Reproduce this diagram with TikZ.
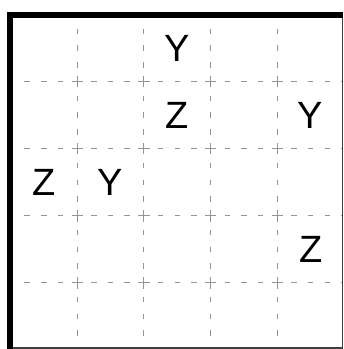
\documentclass[tikz,border=0pt]{standalone}
\usepackage{fontspec}
\setmainfont{Liberation Sans}
\begin{document}
\begin{tikzpicture}[x=1pt,y=-1pt,
  hline/.style={draw=black!42, line width=0.9pt, dash pattern=on 5.5pt off 11.175pt, dash phase=2.75pt},
  vline/.style={draw=black!42, line width=0.9pt, dash pattern=on 5.5pt off 11.275pt, dash phase=2.75pt},
  crossmark/.style={draw=black!42, line width=0.9pt},
  thinframe/.style={draw=black!75, line width=1.3pt},
  thickframe/.style={draw=black, line width=6pt, line join=miter},
  letter/.style={font=\fontsize{38}{38}\selectfont, text=black, inner sep=0pt}]
\useasboundingbox (0,0) rectangle (344,349);
% dashed grid lines
\foreach \yy in {81.6,148.7,215.8,282.9}
  \draw[hline] (10.5,\yy) -- (342.2,\yy);
\foreach \xx in {77.2,143.9,210.6,277.3}
  \draw[vline] (\xx,14.5) -- (\xx,349);
% plus marks at interior crossings
\foreach \xx in {77.2,143.9,210.6,277.3}
  \foreach \yy in {81.6,148.7,215.8,282.9}
    \draw[crossmark] (\xx-5.7,\yy) -- (\xx+5.7,\yy) (\xx,\yy-5.7) -- (\xx,\yy+5.7);
% frame
\draw[thinframe] (342.2,14.5) -- (342.2,348) -- (10.5,348);
\draw[thickframe] (343,15) -- (10,15) -- (10,349.5);
% letters
\node[letter] (y1) at (177.25,48.05) {Y};
\node[letter] (z1) at (177.25,115.15) {Z};
\node[letter] (y2) at (310.65,115.15) {Y};
\node[letter] (z2) at (43.85,182.25) {Z};
\node[letter] (y3) at (110.55,182.25) {Y};
\node[letter] (z3) at (310.65,249.35) {Z};
\end{tikzpicture}
\end{document}
